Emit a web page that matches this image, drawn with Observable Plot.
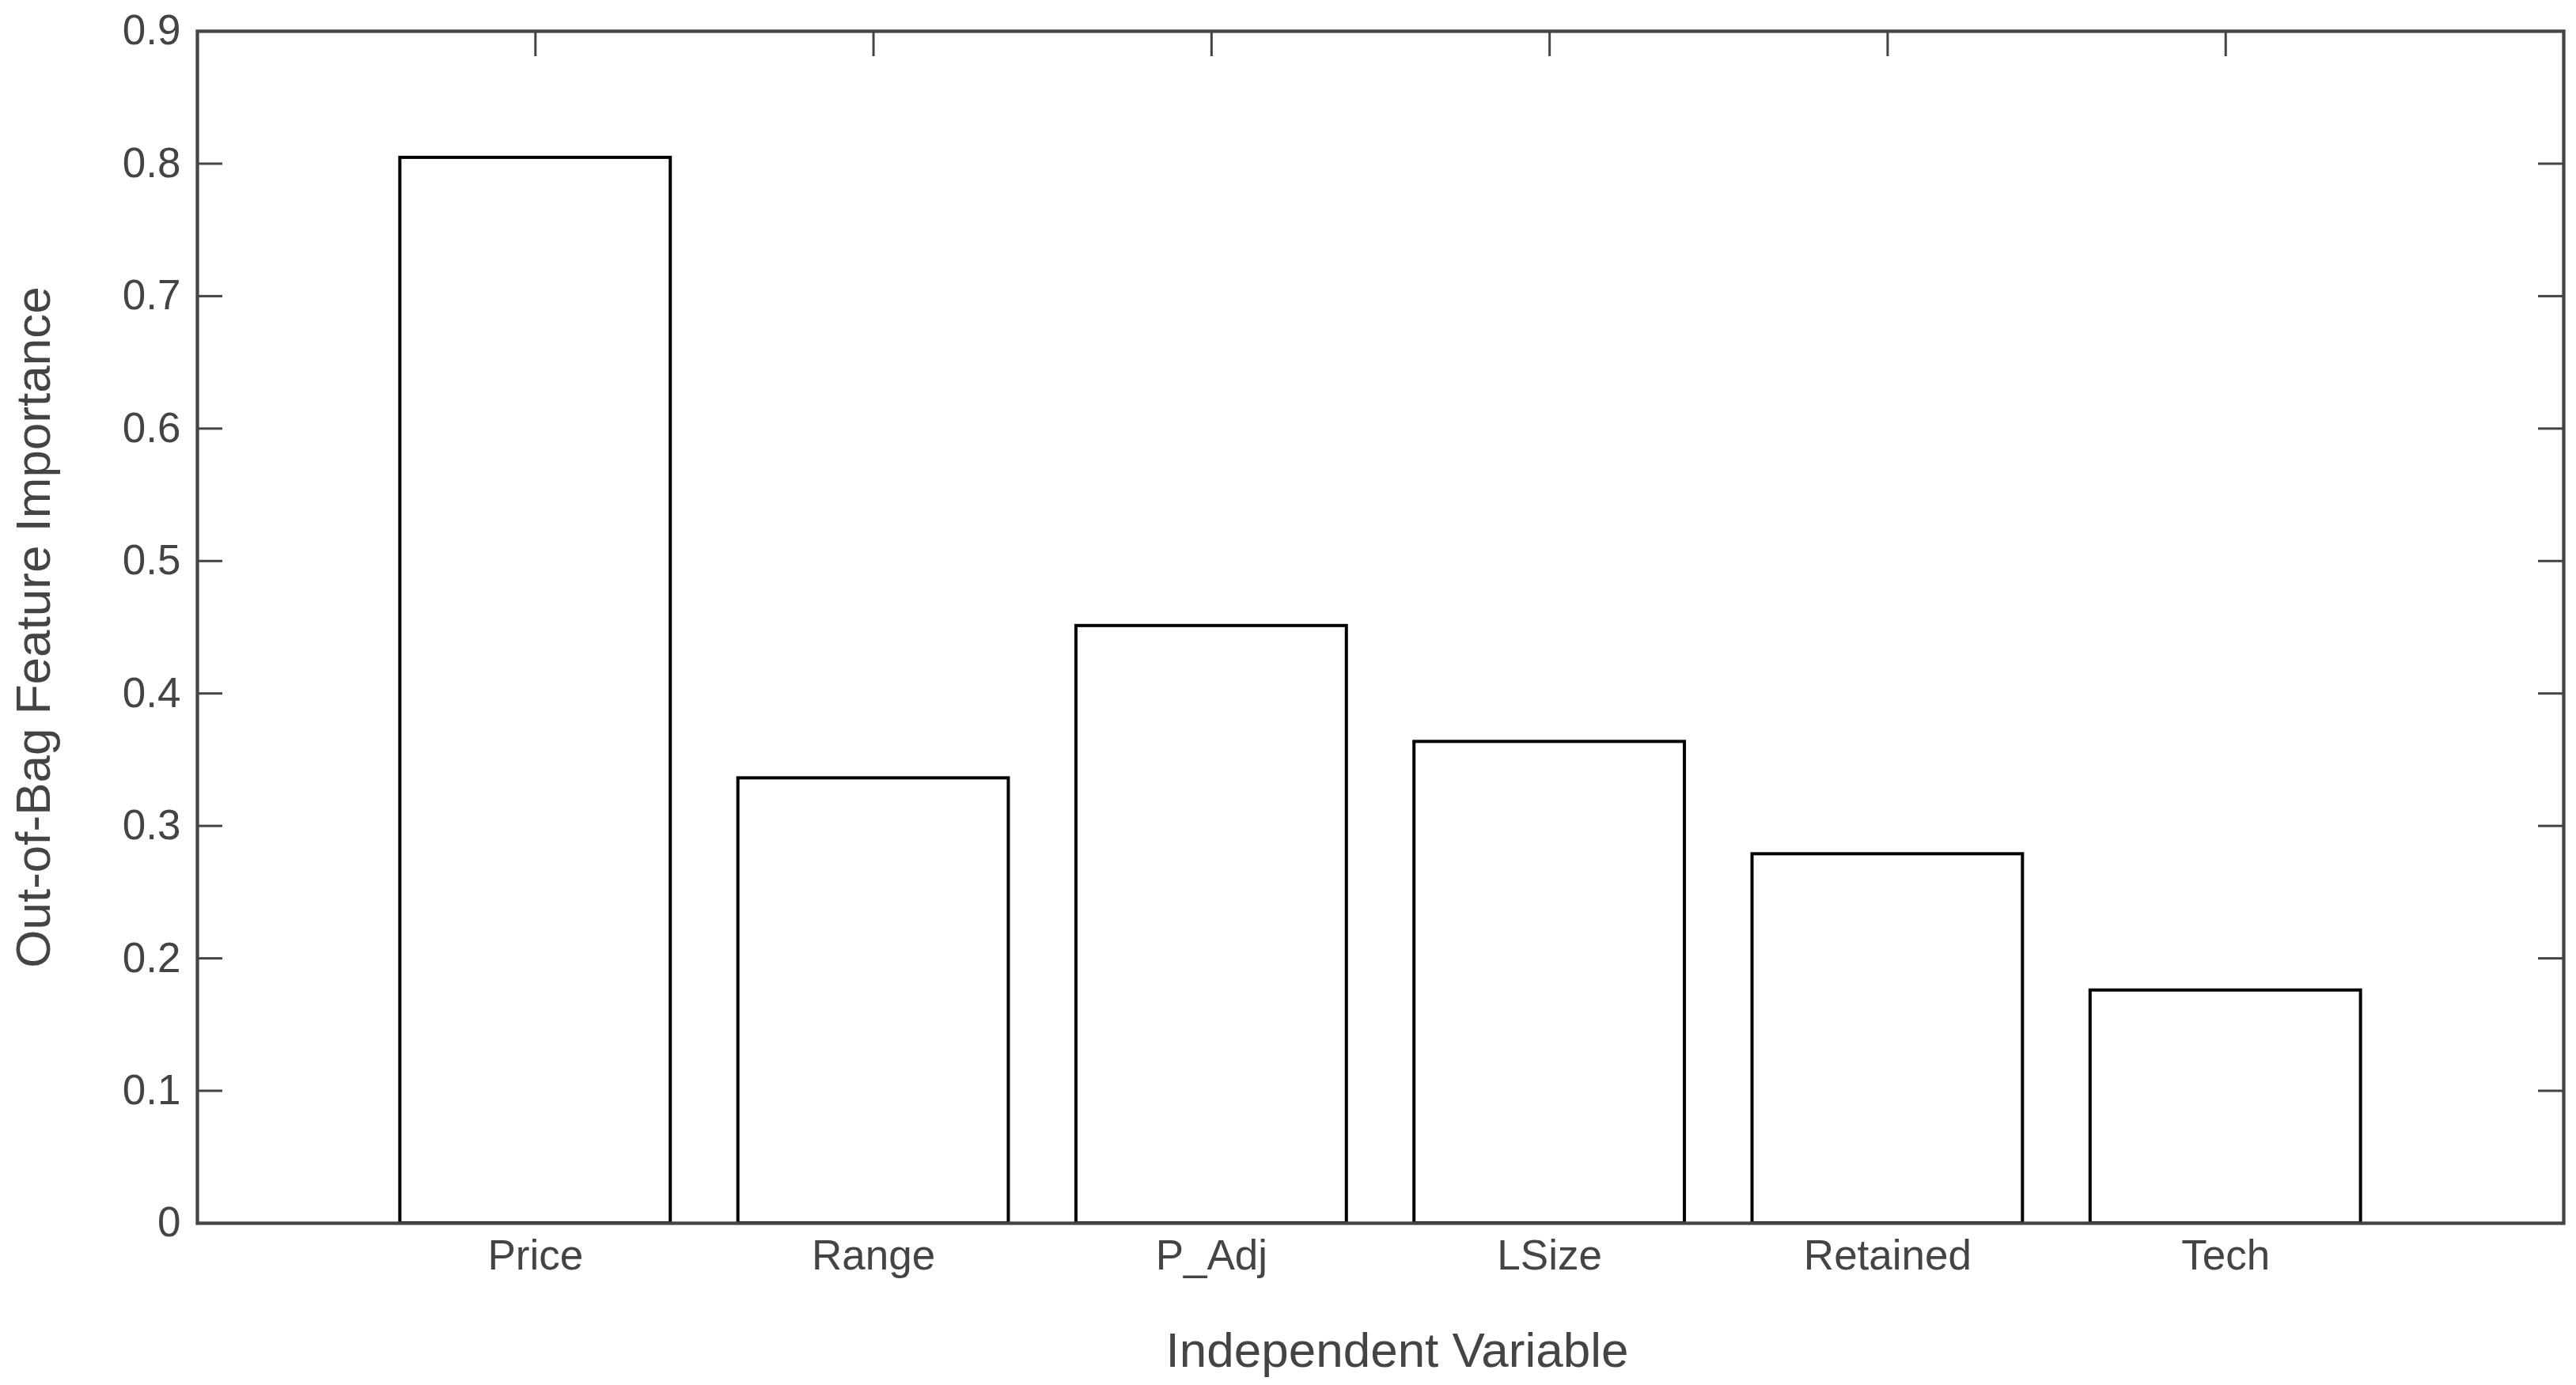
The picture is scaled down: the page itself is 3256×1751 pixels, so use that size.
<!DOCTYPE html>
<html>
<head>
<meta charset="utf-8">
<script src="https://cdn.jsdelivr.net/npm/d3@7"></script>
<script src="https://cdn.jsdelivr.net/npm/@observablehq/plot@0.6"></script>
<style>
  html, body { margin: 0; padding: 0; background: #fff; }
  #chart svg { display: block; }
</style>
</head>
<body>
<div id="chart"></div>
<script>
const categories = ["Price", "Range", "P_Adj", "LSize", "Retained", "Tech"];
const importance = [0.8045, 0.336, 0.451, 0.3635, 0.2787, 0.1758];
const yTicks = [0, 0.1, 0.2, 0.3, 0.4, 0.5, 0.6, 0.7, 0.8, 0.9];
const xLabel = "Independent Variable";
const yLabel = "Out-of-Bag Feature Importance";

const data = categories.map((c, i) => ({name: c, pos: i + 1, value: importance[i]}));
const positions = data.map(d => d.pos);

const W = 3256, H = 1751;
const mL = 249, mR = 16, mT = 39, mB = 205;
const plotW = W - mL - mR, plotH = H - mT - mB;
const axisColor = "#444";
const font = "'Liberation Sans', Arial, Helvetica, sans-serif";

const chart = Plot.plot({
  width: W,
  height: H,
  marginLeft: mL,
  marginRight: mR,
  marginTop: mT,
  marginBottom: mB,
  style: {fontFamily: font, color: axisColor, background: "#fff"},
  x: {type: "linear", domain: [0, 7]},
  y: {domain: [0, 0.9]},
  marks: [
    // inward ticks: left and right
    Plot.tickY(yTicks, {y: d => d, stroke: axisColor, strokeWidth: 3, insetRight: plotW - 32}),
    Plot.tickY(yTicks, {y: d => d, stroke: axisColor, strokeWidth: 3, insetLeft: plotW - 32}),
    // inward ticks: top
    Plot.tickX(positions, {x: d => d, stroke: axisColor, strokeWidth: 3, insetBottom: plotH - 32}),
    // bars
    Plot.rectY(data, {
      x1: d => d.pos - 0.4,
      x2: d => d.pos + 0.4,
      y1: 0,
      y2: "value",
      fill: "white",
      stroke: "black",
      strokeWidth: 4
    }),
    Plot.frame({stroke: axisColor, strokeWidth: 4.3}),
    Plot.axisY({
      ticks: yTicks,
      tickSize: 0,
      tickPadding: 21,
      fontSize: 53,
      tickFormat: d => d === 0 ? "0" : d3.format(".1f")(d),
      label: null
    }),
    Plot.axisX({
      ticks: positions,
      tickSize: 0,
      tickPadding: 21,
      fontSize: 53,
      tickFormat: d => categories[d - 1],
      label: null
    }),
    Plot.text([xLabel], {
      frameAnchor: "bottom",
      text: d => d,
      dx: 21,
      dy: 181,
      lineAnchor: "bottom",
      textAnchor: "middle",
      fontSize: 62,
      fill: axisColor
    }),
    Plot.text([yLabel], {
      frameAnchor: "left",
      text: d => d,
      rotate: -90,
      dx: -(mL - 62),
      lineAnchor: "bottom",
      textAnchor: "middle",
      fontSize: 62,
      fill: axisColor
    })
  ]
});

document.getElementById("chart").appendChild(chart);
</script>
</body>
</html>
